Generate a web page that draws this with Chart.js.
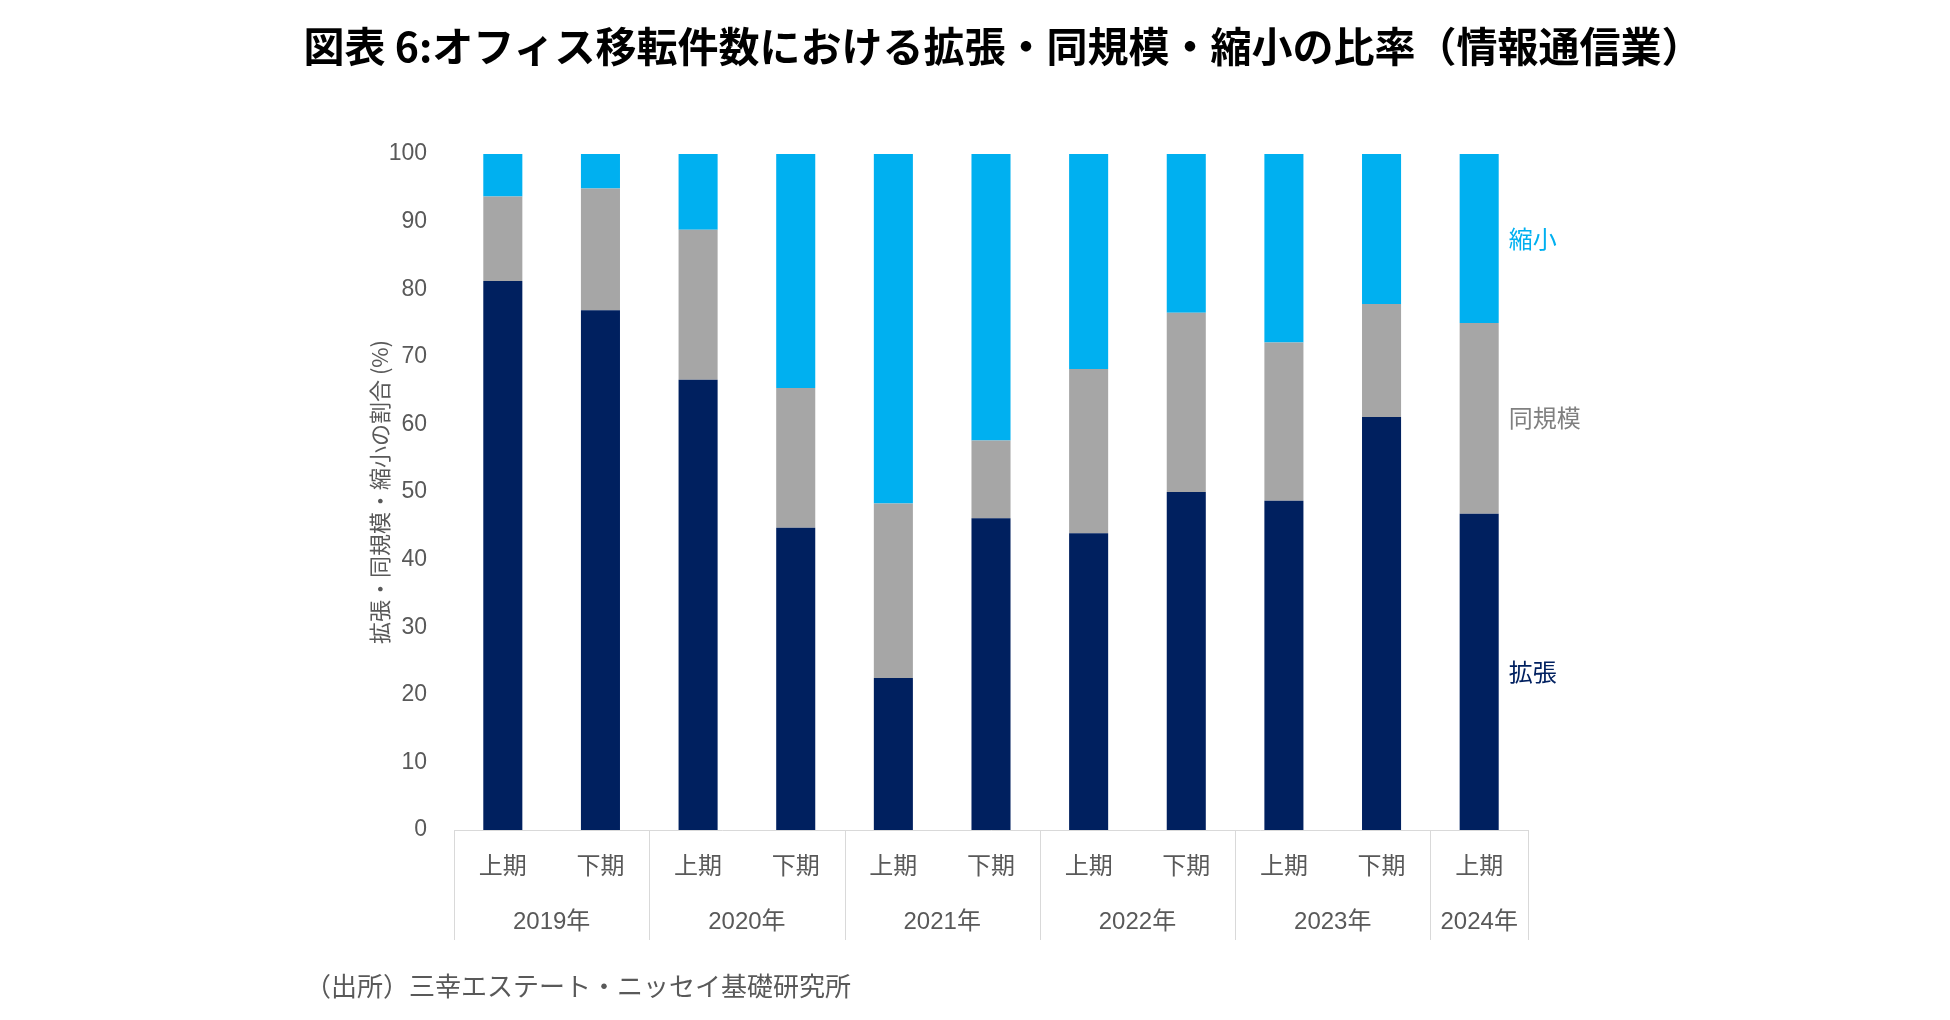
<!DOCTYPE html>
<html lang="ja">
<head>
<meta charset="utf-8">
<title>オフィス移転件数における拡張・同規模・縮小の比率（情報通信業）</title>
<script src="https://cdn.jsdelivr.net/npm/chart.js@4.4.1/dist/chart.umd.min.js"></script>
<style>
  html, body { margin: 0; padding: 0; background: #fff; }
  #wrap   { position: relative; width: 1950px; height: 1020px; overflow: hidden; }
  #chart  { position: absolute; left: 0; top: 0; }
  .title  { position: absolute; left: 0; top: 24px; width: 2006px; text-align: center;
            font: 700 41px/41px "Noto Sans CJK JP", sans-serif; color: #000; }
  .source { position: absolute; left: 305px; top: 972px;
            font: 400 26px/26px "Noto Sans CJK JP", sans-serif; color: #595959; }
</style>
</head>
<body>
<div id="wrap">
  <canvas id="chart" width="1950" height="1020"></canvas>
  <div class="title">図表 6:オフィス移転件数における拡張・同規模・縮小の比率（情報通信業）</div>
  <div class="source">（出所）三幸エステート・ニッセイ基礎研究所</div>
</div>
<script>
// half-year categories, grouped by year underneath
const HALVES      = ['上期','下期','上期','下期','上期','下期','上期','下期','上期','下期','上期'];
const YEARS       = ['2019年','2020年','2021年','2022年','2023年','2024年'];
const GROUP_SIZES = [2, 2, 2, 2, 2, 1];

// shares in %
const EXPAND  = [81.2, 76.9, 66.6, 44.7, 22.5, 46.1, 43.9, 50.0, 48.7, 61.1, 46.8];
const SAME    = [12.5, 18.0, 22.2, 20.7, 25.8, 11.5, 24.3, 26.5, 23.4, 16.7, 28.2];
const SHRINK  = [ 6.3,  5.1, 11.2, 34.6, 51.7, 42.4, 31.8, 23.5, 27.9, 22.2, 25.0];

const Y_TICKS = [0, 10, 20, 30, 40, 50, 60, 70, 80, 90, 100];
const Y_TITLE = '拡張・同規模・縮小の割合 (%)';

const SERIES = [
  { label: '拡張',   data: EXPAND, color: '#00205F', text: '#002060' },
  { label: '同規模', data: SAME,   color: '#A6A6A6', text: '#808080' },
  { label: '縮小',   data: SHRINK, color: '#00B0F0', text: '#00B0F0' }
];

const TEXT = '#595959';
const LINE = '#D9D9D9';

const groupPlugin = {
  id: 'groups',
  afterDraw(chart) {
    const { ctx, chartArea } = chart;
    const w = (chartArea.right - chartArea.left) / HALVES.length;
    ctx.save();

    // year separators below the axis
    const edges = [0];
    GROUP_SIZES.forEach(n => edges.push(edges[edges.length - 1] + n));
    ctx.strokeStyle = LINE;
    ctx.lineWidth = 1;
    edges.forEach(e => {
      const px = Math.round(chartArea.left + e * w) + 0.5;
      ctx.beginPath();
      ctx.moveTo(px, chartArea.bottom);
      ctx.lineTo(px, chartArea.bottom + 110);
      ctx.stroke();
    });

    // year labels
    ctx.fillStyle = TEXT;
    ctx.font = '24px "Liberation Sans", "Noto Sans CJK JP"';
    ctx.textAlign = 'center';
    ctx.textBaseline = 'middle';
    YEARS.forEach((yr, i) => {
      const cx = chartArea.left + (edges[i] + edges[i + 1]) / 2 * w;
      ctx.fillText(yr, cx, chartArea.bottom + 92);
    });

    // series names beside the last bar, at each segment's middle
    ctx.textAlign = 'left';
    ctx.font = '24px "Noto Sans CJK JP"';
    SERIES.forEach((s, i) => {
      const bars = chart.getDatasetMeta(i).data;
      const bar  = bars[bars.length - 1];
      ctx.fillStyle = s.text;
      ctx.fillText(s.label, bar.x + bar.width / 2 + 10, (bar.y + bar.base) / 2);
    });

    // y axis title
    ctx.fillStyle = TEXT;
    ctx.font = '22px "Noto Sans CJK JP", "Liberation Sans"';
    ctx.textAlign = 'center';
    ctx.translate(chartArea.left - 74, (chartArea.top + chartArea.bottom) / 2);
    ctx.rotate(-Math.PI / 2);
    ctx.fillText(Y_TITLE, 0, 0);
    ctx.restore();
  }
};

new Chart(document.getElementById('chart'), {
  type: 'bar',
  data: {
    labels: HALVES,
    datasets: SERIES.map(s => ({
      label: s.label,
      data: s.data,
      backgroundColor: s.color,
      borderWidth: 0,
      barPercentage: 0.4,
      categoryPercentage: 1
    }))
  },
  options: {
    responsive: false,
    animation: false,
    devicePixelRatio: 1,
    layout: { padding: { left: 357, right: 422, top: 154, bottom: 80 } },
    plugins: { legend: { display: false }, tooltip: { enabled: false }, title: { display: false } },
    scales: {
      x: {
        stacked: true,
        afterFit: s => { s.height = 110; },
        grid: { display: false, drawTicks: false },
        border: { display: true, color: LINE, width: 1 },
        ticks: { color: TEXT, padding: 20, font: { size: 24, family: '"Noto Sans CJK JP"' }, maxRotation: 0 }
      },
      y: {
        stacked: true,
        min: 0, max: 100,
        afterFit: s => { s.width = 97; },
        afterBuildTicks: s => { s.ticks = Y_TICKS.map(v => ({ value: v })); },
        grid: { display: false, drawTicks: false },
        border: { display: false },
        ticks: { color: TEXT, padding: 27, font: { size: 23, family: '"Liberation Sans"' } }
      }
    }
  },
  plugins: [groupPlugin]
});
</script>
</body>
</html>
